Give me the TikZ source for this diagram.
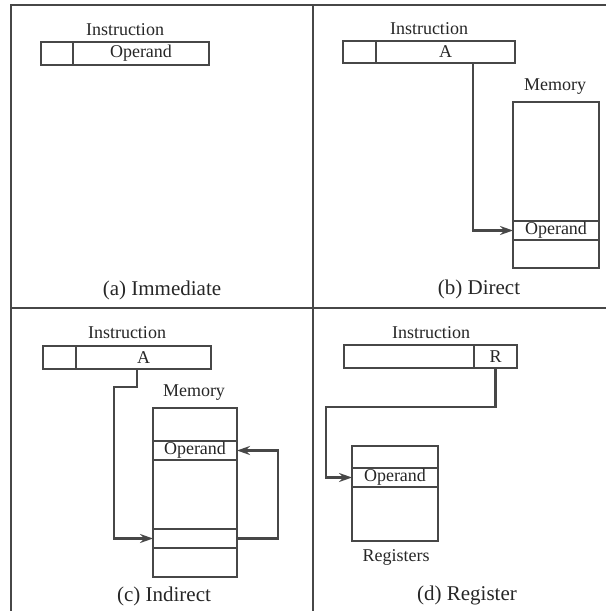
\documentclass[tikz,border=0pt]{standalone}
\usepackage{fontspec}
\setmainfont{Liberation Serif}
\usetikzlibrary{arrows.meta}
\definecolor{ink}{gray}{0.15}
\definecolor{lin}{gray}{0.28}
\tikzset{
  cell/.style={draw=lin, line width=1.1pt, inner sep=0pt, outer sep=0pt, text=ink, font=\fontsize{18}{18}\selectfont},
  lbl/.style={inner sep=0pt, text=ink, font=\fontsize{18}{18}\selectfont},
  captxt/.style={inner sep=0pt, text=ink, font=\fontsize{21}{21}\selectfont},
  arr/.style={draw=lin, line width=2.4pt, -{Stealth[length=13pt,width=9pt]}},
  frame/.style={draw=lin, line width=1.2pt}
}
\newcommand\mycell[6]{\node[cell, minimum width={#4-#2}, minimum height={#5-#3}] (#1) at ({(#2+#4)/2},{(#3+#5)/2}) {#6};}
\begin{document}
\begin{tikzpicture}[x=1pt,y=-1pt]
\useasboundingbox (0,0) rectangle (606,611);
% frame
\draw[frame] (11,611) -- (11,5) -- (606,5);
\draw[frame] (11,308) -- (606,308);
\draw[frame] (313,5) -- (313,611);
% (a) Immediate
\node[lbl] (ains) at (125,30) {Instruction};
\mycell{a1}{41}{42}{73}{65}{}
\mycell{a2}{73}{42}{209}{65}{Operand}
\node[captxt] (acap) at (162,290) {(a) Immediate};
% (b) Direct
\node[lbl] (bins) at (429,29) {Instruction};
\mycell{b1}{343}{41}{376}{63}{}
\mycell{b2}{376}{41}{515}{63}{A}
\node[lbl] (bmem) at (555,87) {Memory};
\mycell{bm1}{513}{102}{599}{221}{}
\mycell{bm2}{513}{221}{599}{240}{Operand}
\mycell{bm3}{513}{240}{599}{268}{}
\coordinate (bx) at (473,0);
\draw[arr] (b2.south -| bx) |- (bm2.west);
\node[captxt] (bcap) at (479,289) {(b) Direct};
% (c) Indirect
\node[lbl] (cins) at (127,333) {Instruction};
\mycell{c1}{43}{346}{76}{369}{}
\mycell{c2}{76}{346}{211}{369}{A}
\node[lbl] (cmem) at (194,393) {Memory};
\mycell{cm1}{153}{408}{237}{441}{}
\mycell{cm2}{153}{441}{237}{460}{Operand}
\mycell{cm3}{153}{460}{237}{529}{}
\mycell{cm4}{153}{529}{237}{548}{}
\mycell{cm5}{153}{548}{237}{577}{}
\coordinate (cx) at (137,0);
\coordinate (cy) at (0,387);
\coordinate (cl) at (114,0);
\coordinate (cr) at (278,0);
\draw[arr] (c2.south -| cx) -- (cx |- cy) -- (cl |- cy) |- (cm4.west);
\draw[arr] (cm4.east) -- (cr |- cm4.east) |- (cm2.east);
\node[captxt] (ccap) at (164,596) {(c) Indirect};
% (d) Register
\node[lbl] (dins) at (431,333) {Instruction};
\mycell{d1}{344}{345}{474}{368}{}
\mycell{d2}{474}{345}{517}{368}{R}
\mycell{dr1}{352}{446}{438}{468}{}
\mycell{dr2}{352}{468}{438}{487}{Operand}
\mycell{dr3}{352}{487}{438}{541}{}
\node[lbl] (dreg) at (396,557) {Registers};
\coordinate (dy) at (0,407);
\coordinate (dl) at (326,0);
\draw[arr] (d2.south) -- (d2.south |- dy) -- (dl |- dy) |- (dr2.west);
\node[captxt] (dcap) at (467,595) {(d) Register};
\end{tikzpicture}
\end{document}
